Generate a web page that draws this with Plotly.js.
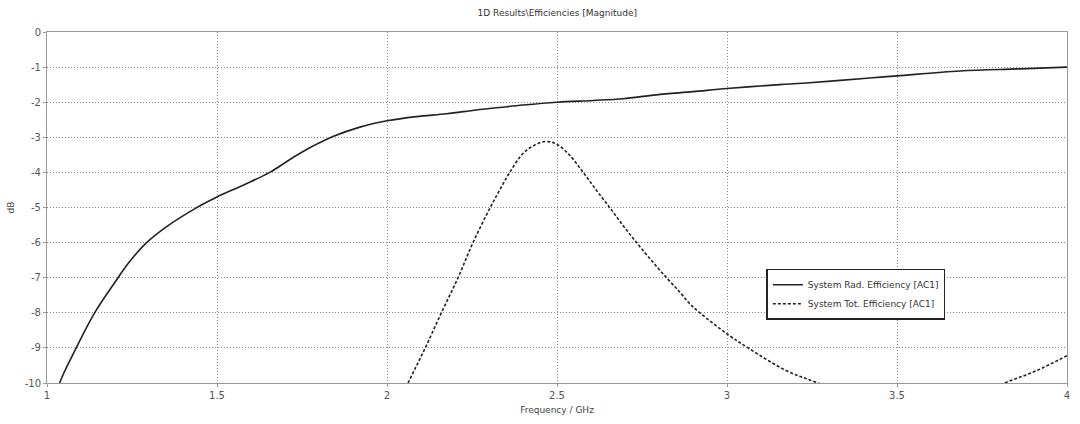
<!DOCTYPE html>
<html>
<head>
<meta charset="utf-8">
<script src="https://cdn.plot.ly/plotly-3.0.1.min.js"></script>
<style>
  html, body { margin: 0; padding: 0; background: #fff; }
  #plot { width: 1080px; height: 424px; }
</style>
</head>
<body>
<div id="plot"></div>
<script>
// System Rad. Efficiency [AC1]
const radFreq = [1.0, 1.037, 1.086, 1.14, 1.209, 1.238, 1.292, 1.351, 1.439, 1.5, 1.58, 1.655, 1.743, 1.841, 1.92,
                 2.0, 2.086, 2.175, 2.263, 2.331, 2.4, 2.5, 2.606, 2.694, 2.792, 2.9, 3.0, 3.155, 3.224, 3.42, 3.5,
                 3.685, 3.861, 4.0];
const radDb = [-11.2, -10.0, -9.0, -8.0, -7.0, -6.6, -6.01, -5.55, -5.01, -4.7, -4.35, -4.0, -3.46, -2.98, -2.71,
               -2.53, -2.41, -2.33, -2.22, -2.15, -2.08, -2.0, -1.95, -1.9, -1.79, -1.7, -1.61, -1.5, -1.46, -1.31, -1.25,
               -1.11, -1.05, -1.0];

// System Tot. Efficiency [AC1]
const totFreq = [2.0, 2.062, 2.111, 2.16, 2.209, 2.253, 2.302, 2.331, 2.361, 2.4, 2.429, 2.464, 2.498, 2.537, 2.577,
                 2.616, 2.655, 2.694, 2.734, 2.778, 2.822, 2.861, 2.89, 2.92, 3.003, 3.062, 3.175, 3.268, 3.4, 3.55,
                 3.7, 3.817, 3.91, 4.0];
const totDb = [-11.3, -10.0, -9.03, -8.0, -7.0, -6.0, -5.03, -4.51, -4.0, -3.46, -3.25, -3.12, -3.19, -3.51, -4.0,
               -4.51, -5.0, -5.51, -6.0, -6.51, -7.0, -7.41, -7.74, -8.0, -8.62, -9.0, -9.65, -10.0, -10.5, -10.7,
               -10.5, -10.0, -9.65, -9.22];

const xTicks = [1, 1.5, 2, 2.5, 3, 3.5, 4];
const yTicks = [0, -1, -2, -3, -4, -5, -6, -7, -8, -9, -10];

const data = [{
    x: radFreq,
    y: radDb,
    name: 'System Rad. Efficiency [AC1]',
    mode: 'lines',
    line: { color: '#222', width: 1.6, shape: 'spline', smoothing: 1 },
}, {
    x: totFreq,
    y: totDb,
    name: 'System Tot. Efficiency [AC1]',
    mode: 'lines',
    line: { color: '#222', width: 1.6, dash: '3px,2px', shape: 'spline', smoothing: 1 },
}];

const axisCommon = {
    showline: true,
    linecolor: '#999',
    linewidth: 1,
    mirror: true,
    showgrid: true,
    gridcolor: '#888',
    griddash: '1px,2px',
    gridwidth: 1,
    zeroline: false,
    ticks: 'outside',
    ticklen: 3,
    tickcolor: '#999',
    tickfont: { family: 'DejaVu Sans', size: 10, color: '#555' },
};

const layout = {
    width: 1080,
    height: 424,
    margin: { t: 32, l: 47, r: 13, b: 41 },
    paper_bgcolor: '#fff',
    plot_bgcolor: '#fff',
    font: { family: 'DejaVu Sans', size: 10, color: '#333' },
    title: {
        text: '1D Results\\Efficiencies [Magnitude]',
        font: { family: 'DejaVu Sans', size: 9, color: '#333' },
        x: 0.516, xanchor: 'center',
        y: 0.97, yanchor: 'middle',
    },
    showlegend: true,
    legend: {
        x: 0.793, xanchor: 'center',
        y: 0.253, yanchor: 'middle',
        bgcolor: '#fff',
        bordercolor: '#222',
        borderwidth: 1.5,
        font: { family: 'DejaVu Sans', size: 9, color: '#333' },
        tracegroupgap: 0,
        itemwidth: 30,
    },
    xaxis: Object.assign({}, axisCommon, {
        range: [1, 4],
        tickmode: 'array',
        tickvals: xTicks,
        ticktext: xTicks.map(String),
        title: { text: 'Frequency / GHz', font: { family: 'DejaVu Sans', size: 9, color: '#444' }, standoff: 6 },
    }),
    yaxis: Object.assign({}, axisCommon, {
        range: [-10, 0],
        tickmode: 'array',
        tickvals: yTicks,
        ticktext: yTicks.map(String),
        title: { text: 'dB', font: { family: 'DejaVu Sans', size: 9, color: '#444' }, standoff: 8 },
    }),
};

Plotly.newPlot('plot', data, layout, { staticPlot: true });
</script>
</body>
</html>
